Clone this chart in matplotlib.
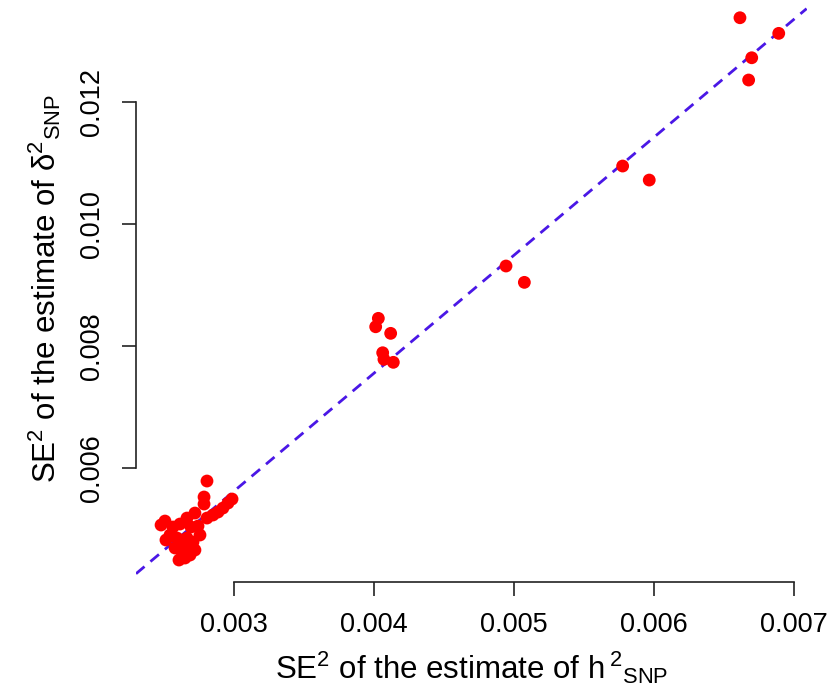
import matplotlib
matplotlib.use("Agg")
import matplotlib.pyplot as plt

# SE^2 of h2_SNP (x) vs SE^2 of delta2_SNP (y)
se2_h2 = [
    0.006614, 0.006891, 0.006698, 0.006676, 0.005776, 0.005966,
    0.004943, 0.005074,
    0.004031, 0.004012, 0.004119, 0.004062, 0.004071, 0.004138,
    0.002807, 0.002786, 0.002786, 0.002986, 0.002957, 0.002921,
    0.002886, 0.002850, 0.002807, 0.002721, 0.002664, 0.002507,
    0.002479, 0.002564, 0.002614, 0.002693, 0.002743, 0.002757,
    0.002543, 0.002514, 0.002593, 0.002664, 0.002707, 0.002614,
    0.002671, 0.002721, 0.002629, 0.002686, 0.002650, 0.002607,
    0.002579,
]
se2_delta2 = [
    0.013377, 0.013121, 0.012721, 0.012356, 0.010946, 0.010716,
    0.009307, 0.009039,
    0.008449, 0.008311, 0.008203, 0.007885, 0.007777, 0.007728,
    0.005782, 0.005520, 0.005405, 0.005487, 0.005421, 0.005339,
    0.005274, 0.005225, 0.005175, 0.005257, 0.005175, 0.005126,
    0.005061, 0.005028, 0.005077, 0.005028, 0.005044, 0.004897,
    0.004897, 0.004815, 0.004848, 0.004848, 0.004782, 0.004733,
    0.004700, 0.004651, 0.004618, 0.004569, 0.004520, 0.004487,
    0.004684,
]

# fitted line (abline) coefficients
line_slope = 1.934
line_intercept = -0.000186

x_ticks = [0.003, 0.004, 0.005, 0.006, 0.007]
y_ticks = [0.006, 0.008, 0.010, 0.012]

plt.rcParams['font.family'] = ['Liberation Sans', 'DejaVu Sans']
plt.rcParams['mathtext.fontset'] = 'custom'
plt.rcParams['mathtext.rm'] = 'Liberation Sans'
plt.rcParams['mathtext.it'] = 'Liberation Sans:italic'
plt.rcParams['mathtext.bf'] = 'Liberation Sans:bold'

fig = plt.figure(figsize=(8.3, 6.91), dpi=100)
W, H = 830.0, 691.0
# plot region in pixels: left 136, right 806.6, bottom 581.8, top -4.4
ax = fig.add_axes([136 / W, (H - 581.8) / H, (806.6 - 136) / W, (581.8 + 4.4) / H])
ax.set_xlim(0.0023, 0.00709)
ax.set_ylim(0.00413, 0.01374)

ax.axline((0, line_intercept), slope=line_slope, color='#4a17e6',
          linewidth=2.0, dashes=(4, 2.8), zorder=1)
ax.scatter(se2_h2, se2_delta2, s=85, color='#ff0000', edgecolors='none', zorder=2)

for side in ['top', 'right']:
    ax.spines[side].set_visible(False)
ax.spines['left'].set_bounds(y_ticks[0], y_ticks[-1])
ax.spines['bottom'].set_bounds(x_ticks[0], x_ticks[-1])
for side in ['left', 'bottom']:
    ax.spines[side].set_linewidth(1.2)
    ax.spines[side].set_color('#222222')

ax.set_xticks(x_ticks)
ax.set_xticklabels([f"{v:.3f}" for v in x_ticks])
ax.set_yticks(y_ticks)
ax.set_yticklabels([f"{v:.3f}" for v in y_ticks], rotation=90, va='center')
ax.tick_params(length=10, width=1.2, color='#222222', labelsize=19.5, pad=12)

ax.set_xlabel(r"SE$^{2}$ of the estimate of h$\,^{2}{}_{\mathrm{SNP}}$", fontsize=22.5, labelpad=8)
ax.set_ylabel(r"SE$^{2}$ of the estimate of $\mathrm{\delta}^{2}{}_{\mathrm{SNP}}$", fontsize=22.5, labelpad=12)

fig.savefig("out.png", dpi=100)
